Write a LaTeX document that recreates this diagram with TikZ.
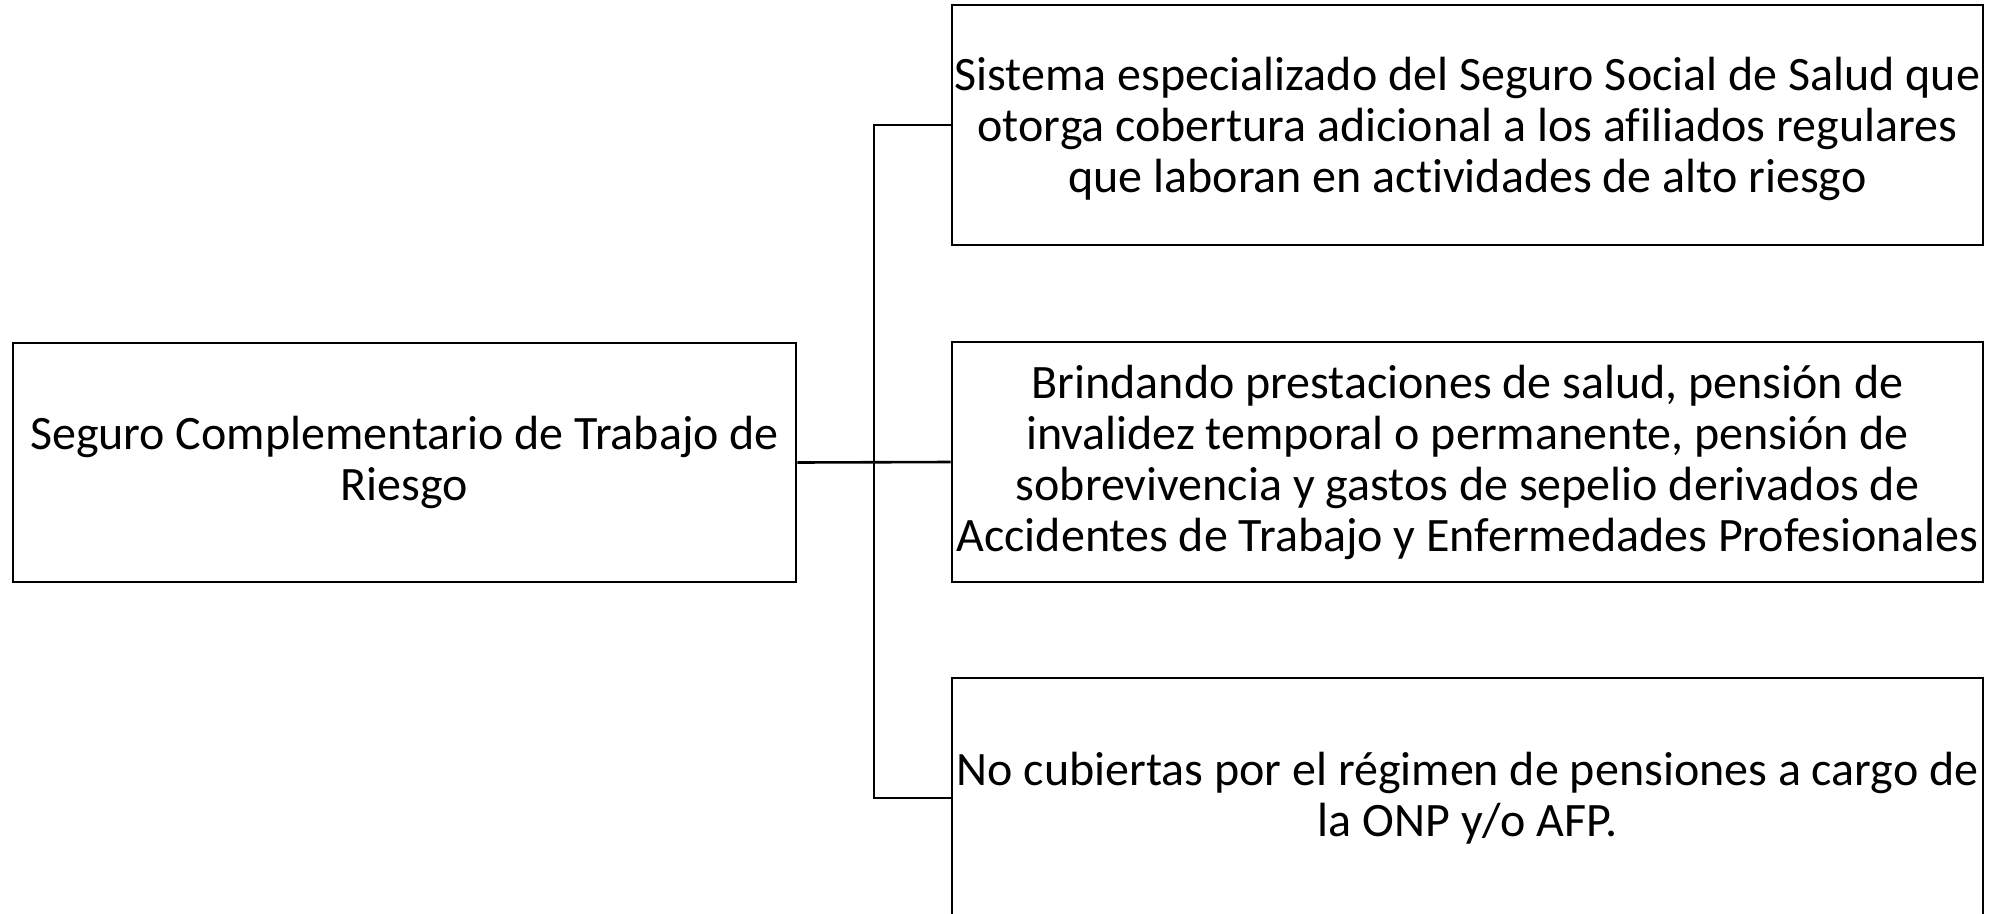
\documentclass[tikz,border=0pt]{standalone}
\usepackage{fontspec}
\setmainfont{Carlito}[Ligatures=NoCommon]
\begin{document}
\begin{tikzpicture}[x=1pt,y=-1pt,
  box/.style={draw=black,line width=2.6pt,align=center,inner sep=0pt,
    font=\fontsize{48}{51}\selectfont},
  lbox/.style={box,minimum width=783pt,minimum height=239pt},
  rbox/.style={box,minimum width=1031pt,minimum height=240pt},
  txt/.style={align=center,inner sep=0pt,font=\fontsize{48}{51}\selectfont},
  conn/.style={draw=black,line width=2.6pt}]
\useasboundingbox (0,0) rectangle (1997,913);
\fill[white] (0,0) rectangle (1997,913);
\node[lbox] (L) at (404.5,462.5) {Seguro Complementario de Trabajo de\\Riesgo};
\node[rbox] (T) at (1467.5,125) {};
\node[txt] (Tt) at (1467.5,129) {Sistema especializado del Seguro Social de Salud que\\otorga cobertura adicional a los afiliados regulares\\que laboran en actividades de alto riesgo};
\node[rbox] (M) at (1467.5,462) {Brindando prestaciones de salud, pensión de\\invalidez temporal o permanente, pensión de\\sobrevivencia y gastos de sepelio derivados de\\Accidentes de Trabajo y Enfermedades Profesionales};
\node[rbox] (B) at (1467.5,798) {No cubiertas por el régimen de pensiones a cargo de\\la ONP y/o AFP.};
\coordinate (j) at (874,462);
\draw[conn] (L.east) -- (M.west);
\draw[conn] (T.west) -| (j) |- (B.west);
\end{tikzpicture}
\end{document}
